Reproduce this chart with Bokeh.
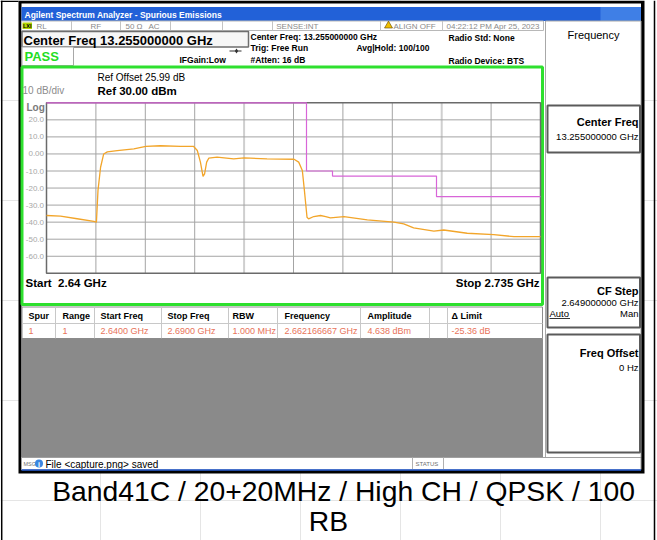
from bokeh.plotting import figure
from bokeh.models import Range1d
from bokeh.core.properties import value
from bokeh.embed import file_html
from bokeh.resources import INLINE

# ---------------- data ----------------
trace_freq_ghz = [2.6400, 2.6427, 2.6459, 2.6491, 2.6496, 2.6499, 2.6504, 2.6510, 2.6517, 2.6536,
                  2.6568, 2.6591, 2.6619, 2.6658, 2.6683, 2.6690, 2.6696, 2.6701, 2.6704, 2.6708,
                  2.6712, 2.6728, 2.6760, 2.6780, 2.6824, 2.6876, 2.6885, 2.6892, 2.6896, 2.6901,
                  2.6904, 2.6914, 2.6927, 2.6937, 2.6946, 2.6972, 2.7017, 2.7068, 2.7087, 2.7106,
                  2.7145, 2.7164, 2.7209, 2.7260, 2.7299, 2.7350]
trace_level_dbm = [-36.1, -36.5, -38.0, -39.5, -40.0, -21.5, -7.8, 0.0, 1.2, 2.0,
                   3.0, 4.4, 4.8, 4.4, 4.4, 2.0, -4.8, -13.2, -11.7, -4.8,
                   -2.5, -1.9, -2.9, -2.3, -2.9, -3.1, -4.8, -9.7, -21.5, -37.1,
                   -38.1, -36.7, -36.1, -36.7, -37.5, -36.7, -38.7, -40.0, -41.0, -43.4,
                   -45.3, -44.6, -46.5, -47.3, -48.5, -48.5]
limit_freq_ghz = [2.640, 2.690, 2.690, 2.695, 2.695, 2.715, 2.715, 2.735]
limit_level_dbm = [30, 30, -10, -10, -13, -13, -25, -25]
freq_grid_ghz = [2.6400, 2.6495, 2.6590, 2.6685, 2.6780, 2.6875, 2.6970, 2.7065, 2.7160, 2.7255, 2.7350]
level_grid_dbm = [30, 20, 10, 0, -10, -20, -30, -40, -50, -60, -70]
level_tick_labels = ["", "20.0", "10.0", "0.00", "-10.0", "-20.0", "-30.0", "-40.0", "-50.0", "-60.0", ""]
table_headers = ["Spur", "Range", "Start Freq", "Stop Freq", "RBW", "Frequency", "Amplitude", "\u0394 Limit"]
table_row = ["1", "1", "2.6400 GHz", "2.6900 GHz", "1.000 MHz", "2.662166667 GHz", "4.638 dBm", "-25.36 dB"]
caption_lines = ["Band41C / 20+20MHz / High CH / QPSK / 100", "RB"]

# ---------------- layout ----------------
W, H, OFF = 657, 540, 0
FONT = "Liberation Sans"
p = figure(width=W, height=H, x_range=Range1d(OFF, OFF + W), y_range=Range1d(OFF + H, OFF),
           output_backend="svg", toolbar_location=None, x_axis_location=None, y_axis_location=None,
           min_border=0, title=None)
p.outline_line_color = None
p.background_fill_color = "white"
p.border_fill_color = "white"

# graticule placement (pixel box) and mapping of data ranges onto it
GX0, GX1, GY0, GY1 = 46.0, 540.0, 102.3, 272.8
F0, F1 = freq_grid_ghz[0], freq_grid_ghz[-1]
DBT, DBB = level_grid_dbm[0], level_grid_dbm[-1]
fpp = (F1 - F0) / (GX1 - GX0)
dpp = (DBT - DBB) / (GY1 - GY0)
p.extra_x_ranges = {"freq": Range1d(F0 + (OFF - GX0) * fpp, F0 + (OFF + W - GX0) * fpp)}
p.extra_y_ranges = {"db": Range1d(DBT - (OFF + H - GY0) * dpp, DBT + (GY0 - OFF) * dpp)}


def T(x, y, s, size, color="black", bold=False, align="left", baseline="middle"):
    p.text(x=[x], y=[y], text=[s], text_font=value(FONT), text_font_size=f"{size}px",
           text_color=color, text_font_style="bold" if bold else "normal",
           text_align=align, text_baseline=baseline)


def R(l, r, t, b, fill=None, line=None, lw=1.0):
    p.quad(left=[l], right=[r], top=[t], bottom=[b], fill_color=fill, line_color=line, line_width=lw)


def L(xs, ys, color, lw=1.0):
    p.line(xs, ys, line_color=color, line_width=lw)


# outer document table borders
L([1.2, 1.2], [0, 540], "black", 1.5)
L([654, 654], [0, 540], "black", 1.5)
L([0, 18], [0.7, 0.7], "black", 1.5)

# screenshot frame
R(18, 644, 0, 473, fill="black")
R(21, 640.5, 3, 469.5, fill="white")

# title bar
R(21, 640.5, 6.5, 20.5, fill="#2261d8")
R(600, 640.5, 6.5, 20.5, fill="#3f7fe6")
T(24, 14.5, "Agilent Spectrum Analyzer - Spurious Emissions", 8.5, "white", bold=True)

# status row
R(21, 543, 20.5, 30, fill="white", line="#b8b8b8")
for sx in [71, 120, 170, 222, 272, 380, 442]:
    L([sx, sx], [20.5, 30], "#c4c4c4")
R(22, 31.5, 22, 28.5, fill="#b5d400")
T(26.7, 25.4, "LXI", 5.5, "black", bold=True, align="center")
T(36, 25.5, "RL", 8, "#8a8a8a")
T(90, 25.5, "RF", 8, "#8a8a8a")
T(125, 25.5, "50 \u03a9", 8, "#8a8a8a")
T(148, 25.5, "AC", 8, "#8a8a8a")
T(318, 25.5, "SENSE:INT", 8, "#8a8a8a", align="right")
p.scatter([388], [25.2], marker="triangle", size=8, fill_color="#f0c000", line_color="#604000", line_width=0.6)
T(393, 25.5, "ALIGN OFF", 8, "#8a8a8a")
T(446, 25.5, "04:22:12 PM Apr 25, 2023", 8, "#8a8a8a")

# header
R(21.5, 248, 31, 46.5, fill="#f6f6f6", line="#6e6e6e", lw=1.5)
T(23, 39.5, "Center Freq 13.255000000 GHz", 13, "black", bold=True)
R(21.5, 73, 46.5, 65, fill="white", line="#a8a8a8")
T(24, 56, "PASS", 13, "#22dd22", bold=True)
L([229, 241], [50.5, 50.5], "#303030")
p.scatter([236], [50.5], marker="diamond", size=5, fill_color="#303030", line_color=None)
T(179, 59, "IFGain:Low", 8.5, "black", bold=True)
T(250, 36, "Center Freq: 13.255000000 GHz", 8.5, "black", bold=True)
T(250, 47.5, "Trig: Free Run", 8.5, "black", bold=True)
T(250, 59, "#Atten: 16 dB", 8.5, "black", bold=True)
T(356, 47.5, "Avg|Hold: 100/100", 8.5, "black", bold=True)
T(448, 37, "Radio Std: None", 8.5, "black", bold=True)
T(448, 60, "Radio Device: BTS", 8.5, "black", bold=True)

# green measurement frame
R(21.5, 542, 66.5, 304, fill="white", line="#2ee02e", lw=3)
T(22, 90, "10 dB/div", 10, "#8c8c8c")
T(97, 77, "Ref Offset 25.99 dB", 10, "black")
T(97, 90, "Ref 30.00 dBm", 11.5, "black", bold=True)
T(26, 106.5, "Log", 10, "#7a7a7a", bold=True)

# graticule (data coordinates)
dk = dict(x_range_name="freq", y_range_name="db")
p.quad(left=[F0], right=[F1], top=[DBT], bottom=[DBB], fill_color="white", line_color=None, **dk)
for i, f in enumerate(freq_grid_ghz[1:-1], start=1):
    light = i in (4, 8)
    p.segment(x0=[f], y0=[DBB], x1=[f], y1=[DBT], line_color="#cfcfcf" if light else "#a4a4a4",
              line_width=2 if light else 1, **dk)
for lv in level_grid_dbm[1:-1]:
    p.segment(x0=[F0], y0=[lv], x1=[F1], y1=[lv], line_color="#a4a4a4", line_width=1, **dk)
p.quad(left=[F0], right=[F1], top=[DBT], bottom=[DBB], fill_color=None, line_color="#6a6a6a",
       line_width=1.5, **dk)
p.text(x=[F0] * len(level_grid_dbm), y=level_grid_dbm, text=level_tick_labels, x_offset=-2.5,
       text_font=value(FONT), text_font_size="8px", text_color="#a8a8a8", text_align="right",
       text_baseline="middle", **dk)
p.line(limit_freq_ghz, limit_level_dbm, line_color="#d865d8", line_width=1.2, **dk)
p.line(trace_freq_ghz, trace_level_dbm, line_color="#f2a52a", line_width=1.3, **dk)

T(25, 282, f"Start\u00a0 {F0:g} GHz", 11.5, "black", bold=True)
T(539, 282, f"Stop {F1:g} GHz", 11.5, "black", bold=True, align="right")

# results table
R(21.5, 542, 306.5, 338, fill="white", line="#8c8c8c")
L([21.5, 542], [323, 323], "#c8c8c8")
for sx in [55, 94, 161, 228, 277, 360, 429, 447]:
    L([sx, sx], [306.5, 338], "#c8c8c8")
col_x = [28, 62, 100, 167, 232, 284, 367, 451]
for cx, h, v in zip(col_x, table_headers, table_row):
    T(cx, 315.5, h, 9, "black", bold=True)
    T(cx, 330.5, v, 9, "#e8735a")
R(21.5, 542.5, 338, 457, fill="#8a8a8a")

# right soft-key panel
R(545, 640.5, 20.5, 457, fill="white", line="#a8a8a8")
T(593, 34, "Frequency", 11, "black", align="center")
R(547, 639.5, 105, 152, fill="white", line="#5a5a5a", lw=2)
T(638, 121, "Center Freq", 11, "black", bold=True, align="right")
T(638, 136, "13.255000000 GHz", 9.5, "black", align="right")
R(547, 639.5, 277, 327, fill="white", line="#5a5a5a", lw=2)
T(638, 290, "CF Step", 11, "black", bold=True, align="right")
T(638, 302, "2.649000000 GHz", 9.5, "black", align="right")
T(549, 313, "Auto", 9.5, "black")
L([549, 569.5], [318, 318], "black", 0.8)
T(638, 313, "Man", 9.5, "black", align="right")
R(547, 639.5, 334, 452, fill="white", line="#5a5a5a", lw=2)
T(638, 352, "Freq Offset", 11, "black", bold=True, align="right")
T(638, 367, "0 Hz", 9.5, "black", align="right")

# message bar
R(21, 640.5, 457, 469, fill="white", line="#a0a0a0")
T(23, 463.5, "MSG", 5.5, "#707070")
p.scatter([38.5], [463], marker="circle", size=8, fill_color="#3a86e0", line_color=None)
T(38.5, 463.5, "i", 7, "white", bold=True, align="center")
T(45, 463.5, "File <capture.png> saved", 10, "black")
L([412, 412], [457, 469], "#b0b0b0")
L([443, 443], [457, 469], "#b0b0b0")
T(415, 463.5, "STATUS", 6, "#707070")
L([21, 640.5], [469.5, 469.5], "#2b62d9", 1.5)

# caption
T(343, 490, caption_lines[0], 28.3, "black", align="center", baseline="middle")
T(328, 520.5, caption_lines[1], 28.3, "black", align="center", baseline="middle")

open("out.html", "w").write(file_html(p, INLINE))
